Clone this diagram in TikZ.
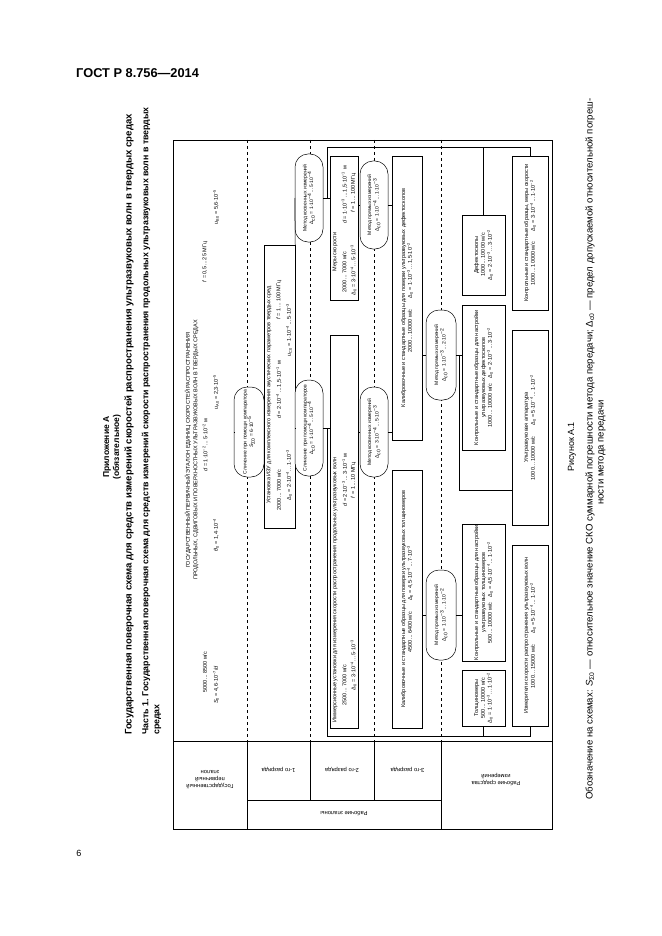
\documentclass[tikz,border=0pt]{standalone}
\usepackage{fontspec}
\setmainfont{Liberation Sans}
\usetikzlibrary{positioning}

\newcommand{\tenp}[1]{·10\textsuperscript{−#1}}
\newcommand{\rng}{\,...\,}

\begin{document}
\begin{tikzpicture}[x=1pt, y=-1pt,
        font=\fontsize{5.5}{6.8}\selectfont,
        box/.style={draw, fill=white, rotate=90, align=center, inner sep=1pt, line width=0.5pt},
        ovl/.style={box, rounded corners=13pt, font=\fontsize{5}{6.5}\selectfont},
        txt/.style={rotate=90, inner sep=0pt},
        lbl/.style={rotate=180, align=center, inner sep=0pt, font=\fontsize{5.8}{7}\selectfont},
        sep/.style={dashed, line width=0.4pt},
        ln/.style={line width=0.5pt},
    ]
    \useasboundingbox (0,0) rectangle (661,936);

    % page head and titles
    \node[anchor=west, inner sep=0pt, font=\fontsize{12.8}{14}\selectfont\bfseries] (head) at (76,73) {ГОСТ Р 8.756—2014};
    \node[inner sep=0pt, font=\fontsize{9}{10}\selectfont] (page) at (79,853) {6};
    \node[txt, font=\fontsize{8.5}{10}\selectfont\bfseries] (app) at (107,447) {Приложение А};
    \node[txt, font=\fontsize{8.5}{10}\selectfont\bfseries] (oblig) at (117,447) {(обязательное)};
    \node[txt, anchor=west, font=\fontsize{9.6}{12}\selectfont\bfseries] (title) at (129,735) {Государственная поверочная схема для средств измерений скоростей распространения ультразвуковых волн в твердых средах};
    \node[txt, anchor=west, font=\fontsize{8.8}{11}\selectfont\bfseries] (part) at (146,735) {Часть 1. Государственная поверочная схема для средств измерений скорости распространения продольных ультразвуковых волн в твердых};
    \node[txt, anchor=west, font=\fontsize{8.8}{11}\selectfont\bfseries] (part2) at (158,735) {средах};

    % frame and rows
    \foreach \r in {247,310,374,441} \draw[sep] (\r,140) -- (\r,741);
    \draw[ln] (173,140) rectangle (552,829);
    \draw[ln] (173,741) -- (552,741);
    \draw[ln] (247,800) -- (441,800);
    \foreach \r in {247,441} \draw[ln] (\r,741) -- (\r,829);
    \foreach \r in {310,374} \draw[ln] (\r,741) -- (\r,800);

    \node[lbl] (lgos) at (210,780) {Государственный\\первичный\\эталон};
    \node[lbl] (l1) at (278.5,770) {1-го разряда};
    \node[lbl] (l2) at (342,770) {2-го разряда};
    \node[lbl] (l3) at (407.5,770) {3-го разряда};
    \node[lbl] (lre) at (344,814) {Рабочие эталоны};
    \node[lbl] (lrsi) at (496,780) {Рабочие средства\\измерений};

    % primary standard
    \node[box, double, double distance=1.6pt, minimum width=565pt, minimum height=55pt] (gos) at (206.5,450.5) {};
    \node[txt] (gt1) at (188,450) {ГОСУДАРСТВЕННЫЙ ПЕРВИЧНЫЙ ЭТАЛОН ЕДИНИЦ СКОРОСТЕЙ РАСПРОСТРАНЕНИЯ};
    \node[txt] (gt2) at (196,450) {ПРОДОЛЬНЫХ, СДВИГОВЫХ И ПОВЕРХНОСТНЫХ УЛЬТРАЗВУКОВЫХ ВОЛН В ТВЕРДЫХ СРЕДАХ};
    \node[txt] (gt3) at (205,672) {5000\rng 8500 м/с};
    \node[txt] (gt4) at (205,445) {\textit{d} = 1\tenp{2}\rng 5\tenp{2} м};
    \node[txt] (gt5) at (205,262) {\textit{f} = 0,5\rng 25 МГц};
    \node[txt] (gt6) at (216,685) {\textit{S}\textsubscript{0} = 4,6\tenp{7}/\textit{d}};
    \node[txt] (gt7) at (216,535) {\textit{θ}\textsubscript{0} = 1,4\tenp{4}};
    \node[txt] (gt8) at (216,392) {\textit{u}\textsubscript{A0} = 2,3\tenp{5}};
    \node[txt] (gt9) at (216,207) {\textit{u}\textsubscript{B0} = 5,6\tenp{5}};

    % 1st rank
    \node[ovl, minimum width=90pt, minimum height=30pt] (cmp0) at (249,432) {Сличение при помощи компаратора\\\textit{S}\textsubscript{Σ0} = 6\tenp{5}};
    \node[box, minimum width=283pt, minimum height=31pt] (izu) at (279.5,386.5) {};
    \node[txt] (iz1) at (269,395) {Установка ИЗУ для комплексного измерения акустических параметров твердых сред};
    \node[txt] (iz2) at (279,490) {2000\rng 7000 м/с};
    \node[txt] (iz3) at (279,390) {\textit{d} = 2\tenp{4}\rng 1,5\tenp{1} м};
    \node[txt] (iz4) at (279,300) {\textit{f} = 1\rng 100 МГц};
    \node[txt] (iz5) at (289,475) {Δ\textsubscript{0} = 2\tenp{4}\rng 1\tenp{3}};
    \node[txt] (iz6) at (289,330) {\textit{u}\textsubscript{C0} = 1\tenp{4}\rng 5\tenp{3}};

    % 2nd rank
    \node[ovl, minimum width=96pt, minimum height=28pt] (cmp1) at (309,428) {Сличение при помощи компараторов\\Δ\textsubscript{с0} = 1\tenp{4}\rng 5\tenp{4}};
    \node[ovl, minimum width=88pt, minimum height=28pt] (ind1) at (309,198) {Метод косвенных измерений\\Δ\textsubscript{с0} = 1\tenp{4}\rng 5\tenp{4}};
    \node[box, minimum width=393pt, minimum height=28pt] (imm) at (344,531.5) {};
    \node[txt] (im1) at (335,590) {Иммерсионные установки для измерения скорости распространения продольных ультразвуковых волн};
    \node[txt] (im2) at (344.5,685) {2500\rng 7000 м/с};
    \node[txt] (im3) at (344.5,480) {\textit{d} = 2\tenp{3}\rng 3\tenp{1} м};
    \node[txt] (im4) at (353.5,665) {Δ\textsubscript{0} = 3\tenp{4}\rng 5\tenp{3}};
    \node[txt] (im5) at (353.5,480) {\textit{f} = 1\rng 10 МГц};
    \node[box, minimum width=144pt, minimum height=28pt] (mery) at (344,228) {};
    \node[txt] (me1) at (335,252) {Меры скорости};
    \node[txt] (me2) at (344.5,272) {2000\rng 7000 м/с};
    \node[txt] (me3) at (344.5,195) {\textit{d} = 1\tenp{3}\rng 1,5\tenp{1} м};
    \node[txt] (me4) at (353.5,270) {Δ\textsubscript{0} = 3\tenp{4}\rng 5\tenp{3}};
    \node[txt] (me5) at (353.5,193) {\textit{f} = 1\rng 100 МГц};

    % 3rd rank
    \node[ovl, minimum width=90pt, minimum height=28pt] (ind2) at (374,432) {Метод косвенных измерений\\Δ\textsubscript{с0} = 3\tenp{4}\rng 5\tenp{3}};
    \node[ovl, minimum width=88pt, minimum height=28pt] (dir1) at (374,205) {Метод прямых измерений\\Δ\textsubscript{с0} = 1\tenp{4}\rng 1\tenp{3}};
    \node[box, minimum width=258pt, minimum height=30pt] (kalt) at (407,599) {Калибровочные и стандартные образцы для поверки ультразвуковых толщиномеров\\4500\rng 6400 м/с\qquad Δ\textsubscript{0} = 4,5\tenp{4}\rng 7\tenp{3}};
    \node[box, minimum width=284pt, minimum height=30pt] (kald) at (407,298) {Калибровочные и стандартные образцы для поверки ультразвуковых дефектоскопов\\2000\rng 10000 м/с\qquad Δ\textsubscript{0} = 1\tenp{3}\rng 1,5\tenp{2}};

    % working instruments
    \node[ovl, minimum width=90pt, minimum height=30pt] (dir2) at (441,615) {Метод прямых измерений\\Δ\textsubscript{с0} = 1\tenp{3}\rng 1\tenp{2}};
    \node[ovl, minimum width=90pt, minimum height=30pt] (dir3) at (441,355) {Метод прямых измерений\\Δ\textsubscript{с0} = 1\tenp{3}\rng 2\tenp{2}};
    \node[box, minimum width=56pt, minimum height=43pt] (thk) at (483.5,698) {Толщиномеры\\500\rng 10000 м/с\\Δ\textsubscript{0} = 1\tenp{3}\rng 1\tenp{2}};
    \node[box, minimum width=125pt, minimum height=43pt] (ksot) at (483.5,592.5) {Контрольные и стандартные образцы для настройки\\ультразвуковых толщиномеров\\500\rng 10000 м/с\quad Δ\textsubscript{0} = 4,5\tenp{4}\rng 1\tenp{2}};
    \node[box, minimum width=145pt, minimum height=43pt] (ksod) at (483.5,377.5) {Контрольные и стандартные образцы для настройки\\ультразвуковых дефектоскопов\\1000\rng 10000 м/с\quad Δ\textsubscript{0} = 2\tenp{3}\rng 3\tenp{2}};
    \node[box, minimum width=80pt, minimum height=43pt] (flaw) at (483.5,255) {Дефектоскопы\\1000\rng 10000 м/с\\Δ\textsubscript{0} = 2\tenp{3}\rng 3\tenp{2}};
    \node[box, minimum width=181pt, minimum height=36pt] (vel) at (530,635.5) {Измерители скорости распространения ультразвуковых волн\\1000\rng 15000 м/с\qquad Δ\textsubscript{0} = 5\tenp{4}\rng 1\tenp{2}};
    \node[box, minimum width=195pt, minimum height=36pt] (usd) at (530,427.5) {Ультразвуковая аппаратура\\1000\rng 10000 м/с\qquad Δ\textsubscript{0} = 5\tenp{4}\rng 1\tenp{2}};
    \node[box, minimum width=154pt, minimum height=36pt] (ksom) at (530,233) {Контрольные и стандартные образцы, меры скорости\\1000\rng 10000 м/с\qquad Δ\textsubscript{0} = 3\tenp{4}\rng 1\tenp{2}};

    % connections
    \coordinate (j1) at (327.5,198);
    \coordinate (j2) at (327.5,428);
    \coordinate (t1) at (327.5,147);
    \coordinate (b1) at (327.5,736);
    \coordinate (g1) at (459,490);
    \draw[ln] (cmp0.north) -- (cmp0.north -| gos.south);
    \draw[ln] (cmp0.south) -- (cmp0.south -| izu.north);
    \draw[ln] (ind1.north) -- (izu.south east);
    \draw[ln] (cmp1.north) -- (cmp1.north -| izu.south);
    \draw[ln] (cmp1.south) -- (cmp1.south -| imm.north);
    \draw[ln] (ind1.south) -- (ind1.south -| mery.north);
    \draw[ln] (j1) -- (t1) -| (flaw.east);
    \draw[ln] (t1 -| flaw.east) -| (ksom.east);
    \draw[ln] (j2) -- (b1) -| (vel.west);
    \draw[ln] (b1 -| thk.west) -- (thk.west);
    \draw[ln] (imm.south |- ind2.north) -- (ind2.north);
    \draw[ln] (mery.south |- dir1.north) -- (dir1.north);
    \draw[ln] (ind2.south) -- (ind2.south -| kalt.north);
    \draw[ln] (dir1.south) -- (dir1.south -| kald.north);
    \draw[ln] (dir2.north) -- (dir2.north -| kalt.south);
    \draw[ln] (dir3.north) -- (dir3.north -| kald.south);
    \draw[ln] (dir2.south) -- (dir2.south -| ksot.north);
    \draw[ln] (dir3.south) -- (dir3.south -| ksod.north);
    \draw[ln] (dir3.south) -| (g1) -- (g1 -| usd.north);

    % notes
    \node[txt, font=\fontsize{9}{11}\selectfont] (fig) at (572,447) {Рисунок А.1};
    \node[txt, anchor=west, font=\fontsize{9.6}{11}\selectfont] (note1) at (590,800) {Обозначение на схемах: \textit{S}\textsubscript{Σ0} — относительное значение СКО суммарной погрешности метода передачи; Δ\textsubscript{с0} — предел допускаемой относительной погреш-};
    \node[txt, anchor=west, font=\fontsize{9.6}{11}\selectfont] (note2) at (602,505) {ности метода передачи};
\end{tikzpicture}
\end{document}
